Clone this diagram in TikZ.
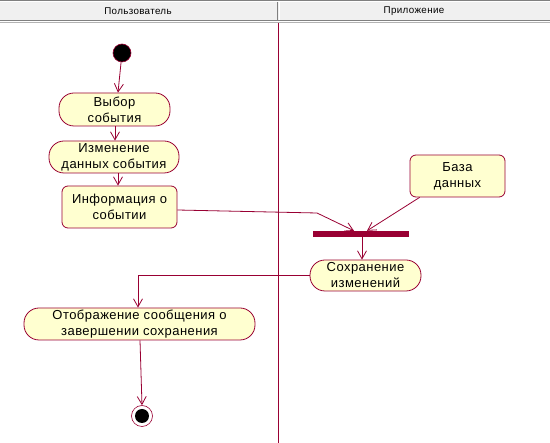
\documentclass[tikz,border=0pt]{standalone}
\usepackage{fontspec}
\setmainfont{Liberation Sans}
\newfontfamily\labelfont[LetterSpace=3.5]{Liberation Sans}
\usetikzlibrary{arrows.meta}
\definecolor{umlred}{RGB}{153,0,51}
\definecolor{umlfill}{RGB}{255,255,208}
\definecolor{hdrfill}{RGB}{240,240,240}
\definecolor{hdrline}{RGB}{128,128,128}
\begin{document}
\begin{tikzpicture}[x=1pt,y=-1pt,
  every node/.style={font=\labelfont\fontsize{13}{16}\selectfont, align=center, inner sep=0pt},
  action/.style={draw=umlred, fill=umlfill, line width=0.8pt, rounded corners=15pt},
  objbox/.style={draw=umlred, fill=umlfill, line width=0.8pt, rounded corners=6pt},
  flow/.style={draw=umlred, line width=0.8pt, -{Straight Barb[length=8pt,width=9pt]}},
  hdr/.style={font=\labelfont\fontsize{9.8}{12}\selectfont}]
\useasboundingbox (0,0) rectangle (550,443);
\fill[white] (0,0) rectangle (550,443);

% swimlane header
\fill[hdrfill] (0,2) rectangle (550,20);
\draw[hdrline, line width=1pt] (0,0.5) -- (550,0.5);
\draw[hdrline, line width=1.2pt] (0,20.5) -- (550,20.5);
\draw[hdrline!60, line width=0.8pt] (0,22.5) -- (550,22.5);
\draw[hdrline, line width=1pt] (277.5,2) -- (277.5,20);
\draw[white, line width=0.8pt] (279,2) -- (279,20);
\node[hdr] (laneA) at (138,11.5) {Пользователь};
\node[hdr] (laneB) at (414,11.5) {Приложение};

% lane divider
\draw[umlred, line width=0.8pt] (278.5,23) -- (278.5,443);

% start / end states
\node[circle, draw=umlred, fill=black, line width=0.6pt, minimum size=18pt] (start) at (122,53) {};
\node[circle, draw=umlred, fill=white, line width=0.6pt, minimum size=21pt] (stop) at (142,416) {};
\node[circle, fill=black, minimum size=14pt] (stopin) at (142,416) {};

% actions
\node[action, minimum width=111pt, minimum height=33pt] (choose) at (114.5,109.5) {Выбор\\события};
\node[action, minimum width=130pt, minimum height=32pt] (edit) at (114,157) {Изменение\\данных события};
\node[objbox, minimum width=115pt, minimum height=42pt] (info) at (119.5,207) {Информация о\\событии};
\node[objbox, minimum width=95pt, minimum height=42pt] (db) at (457.5,176) {База\\данных};
\node[fill=umlred, minimum width=96pt, minimum height=6pt] (bar) at (361,234) {};
\node[action, minimum width=111pt, minimum height=31pt] (save) at (365.5,275.5) {Сохранение\\изменений};
\node[action, minimum width=231pt, minimum height=32pt] (show) at (139.5,324) {Отображение сообщения о\\завершении сохранения};

% control flow
\draw[flow] (start) -- (choose.north -| 118,0);
\draw[flow] (choose.south -| 115,0) -- (edit.north -| 115,0);
\draw[flow] (edit.south -| 118,0) -- (info.north -| 118,0);
\draw[flow] (info.east |- 0,210) -- (317,213) -- ([xshift=-7pt]bar.north);
\draw[flow] ([xshift=10pt]db.south west) -- ([xshift=6pt]bar.north);
\draw[flow] (bar.south -| 362,0) -- (save.north -| 362,0);
\draw[flow] (save.west) -- (138,275.5) -- (show.north -| 138,0);
\draw[flow] (show.south -| 140,0) -- (stop.north);
\end{tikzpicture}
\end{document}
